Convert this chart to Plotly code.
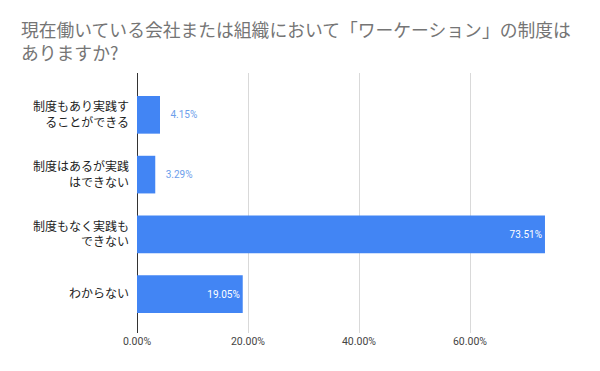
import plotly.graph_objects as go

title_text = "現在働いている会社または組織において「ワーケーション」の制度は<br>ありますか?"
categories = ["制度もあり実践す<br>ることができる", "制度はあるが実践<br>はできない", "制度もなく実践も<br>できない", "わからない"]
values = [4.15, 3.29, 73.51, 19.05]
tick_values = [0, 20, 40, 60, 80]
tick_labels = ["0.00%", "20.00%", "40.00%", "60.00%", ""]

positions = ["outside" if v < 10 else "inside" for v in values]
text_colors = ["#6d9eeb" if v < 10 else "#ffffff" for v in values]
labels = [("\u00a0\u00a0\u00a0" if v < 10 else "") + f"{v:.2f}%" for v in values]

fig = go.Figure(go.Bar(
    y=categories, x=values, orientation="h",
    marker=dict(color="#4285f4", line=dict(width=0)),
    text=labels,
    textposition=positions,
    insidetextanchor="end",
    textfont=dict(size=10, color=text_colors, family="Roboto, Noto Sans CJK JP"),
    constraintext="none",
    cliponaxis=False,
))

# page body has an 8px margin in the browser; compensate in the layout
fig.update_layout(
    width=600, height=371,
    margin=dict(l=129, r=27, t=65, b=46, autoexpand=False),
    paper_bgcolor="white", plot_bgcolor="white",
    bargap=0.37,
    showlegend=False,
    font=dict(family="Roboto, Noto Sans CJK JP", color="#222222"),
    title=dict(
        text=title_text, x=13/600, xanchor="left", xref="container",
        y=1 - 29/371, yanchor="top", yref="container",
        font=dict(size=17.8, color="#757575", family="Noto Sans CJK JP"),
    ),
)
fig.update_xaxes(
    range=[0, 80], tickvals=tick_values, ticktext=tick_labels,
    showgrid=True, gridcolor="#d9d9d9", gridwidth=1,
    zeroline=True, zerolinecolor="#333333", zerolinewidth=1,
    tickfont=dict(size=10.5, color="#444444"), ticks="", fixedrange=True,
    automargin=False,
)
fig.update_yaxes(
    categoryorder="array", categoryarray=categories,
    range=[3.65, -0.7], showgrid=False, zeroline=False,
    tickfont=dict(size=12, color="#222222", family="Noto Sans CJK JP"),
    ticks="", ticklabelstandoff=7, automargin=False,
)

fig.write_html("out.html")
